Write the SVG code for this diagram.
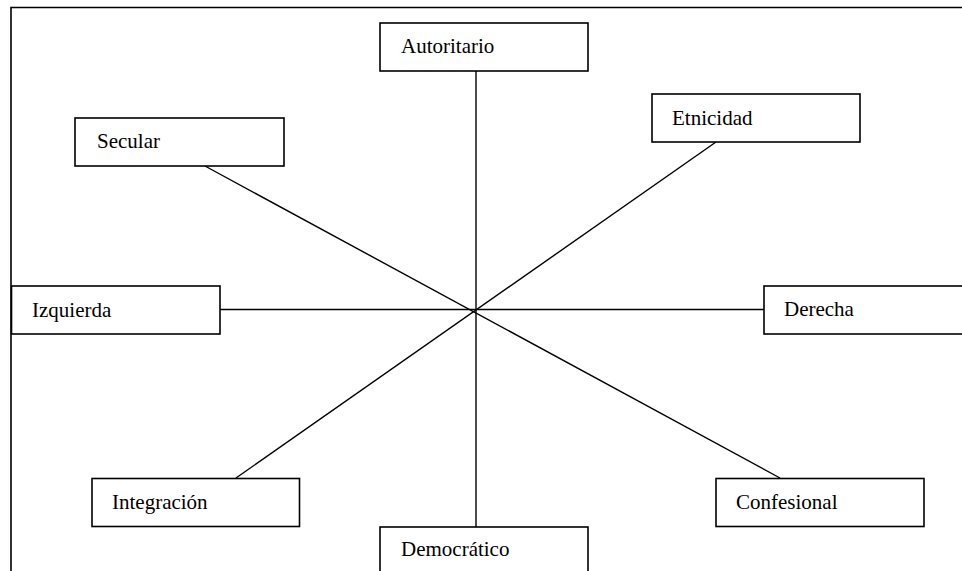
<svg xmlns="http://www.w3.org/2000/svg" width="962" height="571" viewBox="0 0 962 571">
<style>
.box{fill:#fff;stroke:#000;stroke-width:1.6}
.lbl{font-family:"Liberation Serif","Times New Roman",serif;font-size:21px;fill:#000}
.ln{stroke:#000;stroke-width:1.4;fill:none}
</style>
<rect width="962" height="571" fill="#fff"/>
<path d="M11,580 V7.5 H970" fill="none" stroke="#000" stroke-width="1.6"/>
<g id="connectors">
<line class="ln" x1="476" y1="71" x2="476" y2="527"/>
<line class="ln" x1="220" y1="309.5" x2="764" y2="309.5"/>
<line class="ln" x1="205" y1="166" x2="780" y2="478"/>
<line class="ln" x1="716" y1="142" x2="236" y2="478"/>
</g>
<g id="autoritario"><rect class="box" x="380" y="23" width="208" height="48"/><text class="lbl" x="401" y="53">Autoritario</text></g>
<g id="secular"><rect class="box" x="75" y="118" width="209" height="48"/><text class="lbl" x="97" y="148">Secular</text></g>
<g id="etnicidad"><rect class="box" x="652" y="94" width="208" height="48"/><text class="lbl" x="672" y="125">Etnicidad</text></g>
<g id="izquierda"><rect class="box" x="11.5" y="286" width="208.5" height="48"/><text class="lbl" x="32" y="317">Izquierda</text></g>
<g id="derecha"><rect class="box" x="764" y="286" width="210" height="48"/><text class="lbl" x="784" y="316">Derecha</text></g>
<g id="integracion"><rect class="box" x="92" y="478.5" width="207.5" height="48"/><text class="lbl" x="112" y="509">Integración</text></g>
<g id="confesional"><rect class="box" x="716" y="478.5" width="208" height="48"/><text class="lbl" x="736" y="509">Confesional</text></g>
<g id="democratico"><rect class="box" x="380" y="527" width="208" height="60"/><text class="lbl" x="401" y="556">Democrático</text></g>
</svg>
